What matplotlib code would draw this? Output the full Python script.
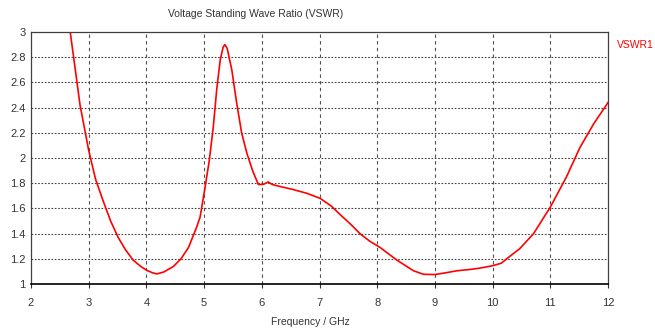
import matplotlib.pyplot as plt

# frequency (GHz) and VSWR
freq = [2.68, 2.85, 3.0, 3.12, 3.25, 3.38, 3.51, 3.64, 3.77, 3.9, 4.0, 4.1,
        4.18, 4.3, 4.47, 4.6, 4.73, 4.87, 4.93, 5.0, 5.09, 5.16, 5.22, 5.28,
        5.33, 5.36, 5.4, 5.48, 5.56, 5.65, 5.74, 5.84, 5.94, 6.02, 6.07, 6.11,
        6.18, 6.26, 6.4, 6.54, 6.78, 7.01, 7.2, 7.36, 7.55, 7.7, 7.87, 8.05,
        8.34, 8.63, 8.8, 9.0, 9.2, 9.38, 9.6, 9.78, 10.0, 10.15, 10.3, 10.47,
        10.71, 11.0, 11.28, 11.51, 11.75, 12.0]
vswr = [3.0, 2.42, 2.06, 1.83, 1.66, 1.50, 1.37, 1.27, 1.19, 1.14, 1.11, 1.09,
        1.08, 1.095, 1.14, 1.2, 1.29, 1.45, 1.53, 1.72, 1.98, 2.25, 2.55, 2.78,
        2.88, 2.9, 2.87, 2.70, 2.45, 2.2, 2.04, 1.9, 1.79, 1.79, 1.80, 1.81,
        1.79, 1.78, 1.765, 1.75, 1.72, 1.68, 1.62, 1.55, 1.47, 1.40, 1.34, 1.29,
        1.19, 1.105, 1.077, 1.075, 1.09, 1.105, 1.115, 1.126, 1.145, 1.165, 1.22,
        1.28, 1.40, 1.61, 1.85, 2.08, 2.27, 2.44]

xticks = [2, 3, 4, 5, 6, 7, 8, 9, 10, 11, 12]
yticks = [1, 1.2, 1.4, 1.6, 1.8, 2, 2.2, 2.4, 2.6, 2.8, 3]
ytick_labels = ["1", "1.2", "1.4", "1.6", "1.8", "2", "2.2", "2.4", "2.6", "2.8", "3"]

plt.rcParams['font.family'] = ['Liberation Sans', 'DejaVu Sans']

fig = plt.figure(figsize=(6.55, 3.29), dpi=100)
ax = fig.add_axes([31 / 655, 1 - 284 / 329, 577 / 655, 252 / 329])

ax.plot(freq, vswr, color="#ff0000", lw=1.2)

ax.set_xlim(2, 12)
ax.set_ylim(1, 3)
ax.set_xticks(xticks)
ax.set_yticks(yticks)
ax.set_yticklabels(ytick_labels)
ax.tick_params(labelsize=8, length=3, width=0.8, colors="#333333")
ax.tick_params(axis="x", pad=7)
ax.tick_params(axis="y", length=0, pad=4)

#? grid: vertical dashed, horizontal dotted
for x in xticks[1:-1]:
    ax.axvline(x, color="#505050", lw=0.8, ls=(0, (3, 3)), zorder=0)
for y in yticks[1:-1]:
    ax.axhline(y, color="#404040", lw=0.8, ls=(0, (1.5, 1.5)), zorder=0)

for s in ["top", "right", "left"]:
    ax.spines[s].set_color("#404040")
    ax.spines[s].set_linewidth(0.9)
ax.spines["bottom"].set_color("black")
ax.spines["bottom"].set_linewidth(1.2)

fig.text(256 / 655, 1 - 14 / 329, "Voltage Standing Wave Ratio (VSWR)",
         ha="center", va="center", fontsize=7.5, color="#333333")
fig.text(310 / 655, 1 - 322 / 329, "Frequency / GHz",
         ha="center", va="center", fontsize=7.5, color="#333333")
fig.text(617 / 655, 1 - 45 / 329, "VSWR1", ha="left", va="center",
         fontsize=7.5, color="#ff0000")

fig.savefig("out.png", dpi=100)
